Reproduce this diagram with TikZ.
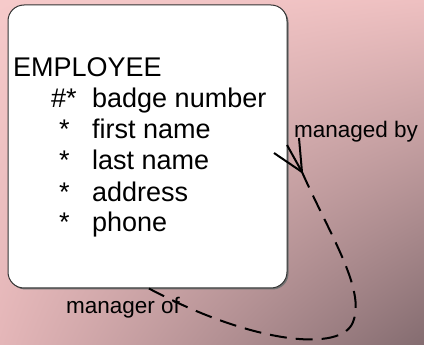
\documentclass[tikz,border=0pt]{standalone}
\usepackage{fontspec}
\setmainfont{Liberation Sans}
\usetikzlibrary{shadings}
\begin{document}
\begin{tikzpicture}[x=1pt,y=-1pt,
  entbox/.style={draw=black!80, line width=1pt, fill=white, rounded corners=16pt,
    minimum width=279pt, minimum height=283pt, inner sep=0pt},
  attr/.style={inner sep=0pt, anchor=base west, font=\fontsize{27}{31}\selectfont},
  rel/.style={inner sep=0pt, anchor=base west, font=\fontsize{22.5}{26}\selectfont},
  crow/.style={line width=2pt, black},
  reldash/.style={line width=2pt, black, dash pattern=on 17pt off 9pt}]
\definecolor{bgtl}{RGB}{246,202,202}
\definecolor{bgtr}{RGB}{238,192,193}
\definecolor{bgbl}{RGB}{228,182,184}
\definecolor{bgbr}{RGB}{132,108,112}
\useasboundingbox (0,0) rectangle (424,345);
\shade[upper left=bgtl, upper right=bgtr, lower left=bgbl, lower right=bgbr] (0,0) rectangle (424,345);
% shadow
\fill[black!55, rounded corners=16pt] (9.5,6.5) rectangle (288.5,289.5);
\node[entbox] (employee) at (147.5,146.5) {};
% texts
\node[attr] (title) at (13,77) {EMPLOYEE};
\node[attr] (m1) at (51,108) {\#*};
\node[attr] (a1) at (92,108) {badge number};
\node[attr] (m2) at (59,139) {*};
\node[attr] (a2) at (92,139) {first name};
\node[attr] (m3) at (59,170) {*};
\node[attr] (a3) at (92,170) {last name};
\node[attr] (m4) at (59,201) {*};
\node[attr] (a4) at (92,201) {address};
\node[attr] (m5) at (59,232) {*};
\node[attr] (a5) at (92,232) {phone};
% relationship
\coordinate (apex) at (302,172);
\coordinate (toeA) at (274,153);
\coordinate (toeB) at (287,145);
\coordinate (toeC) at (299,138);
\coordinate (mid) at (353,322);
\coordinate (endof) at (148,288);
\draw[crow] (apex) -- (toeA);
\draw[crow] (apex) -- (toeB);
\draw[crow] (apex) -- (toeC);
\draw[reldash] (apex) .. controls (330,235) and (366,290) .. (mid)
  .. controls (342,352) and (255,345) .. (endof);
\node[rel] (lby) at (294,138) {managed by};
\node[rel] (lof) at (66,313) {manager of};
\end{tikzpicture}
\end{document}
